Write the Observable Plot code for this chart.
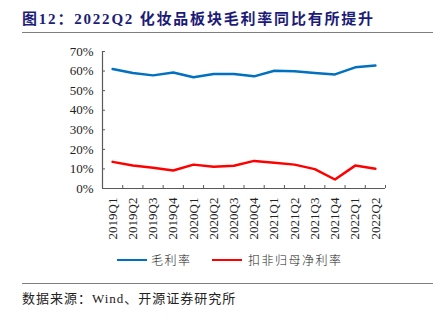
<!DOCTYPE html>
<html>
<head>
<meta charset="utf-8">
<script src="https://cdn.jsdelivr.net/npm/d3@7"></script>
<script src="https://cdn.jsdelivr.net/npm/@observablehq/plot@0.6"></script>
<style>
  body { margin: 0; background: #fff; }
  #wrap { position: relative; width: 441px; height: 323px; overflow: hidden; font-family: "Liberation Serif", "Noto Sans CJK SC", serif; }
  #title { position: absolute; left: 22px; top: 7px; font-size: 15px; font-weight: bold; color: #1c1c78; letter-spacing: 1.8px; white-space: nowrap; font-family: "Liberation Serif", "Noto Sans CJK SC", serif; }
  .hr { position: absolute; left: 22px; width: 411px; height: 0; border-top: 1.5px solid #7f7f7f; }
  #chart { position: absolute; left: 0; top: 40px; }
  #legend { position: absolute; top: 251px; left: 0; width: 441px; height: 18px; font-size: 12px; letter-spacing: 1.5px; color: #222; }
  .sw { position: absolute; top: 8px; width: 30px; height: 0; border-top: 2.5px solid; }
  .lt { position: absolute; top: 0; white-space: nowrap; font-family: "Noto Sans CJK SC", sans-serif; font-weight: 300; }
  #source { position: absolute; left: 22px; top: 288px; font-size: 13px; letter-spacing: 1px; color: #222; white-space: nowrap; font-family: "Liberation Serif", "Noto Sans CJK SC", serif; }
</style>
</head>
<body>
<div id="wrap">
  <div id="title">图12：2022Q2 化妆品板块毛利率同比有所提升</div>
  <div class="hr" style="top:32px"></div>
  <div id="chart"></div>
  <div id="legend"></div>
  <div class="hr" style="top:283px"></div>
  <div id="source">数据来源：Wind、开源证券研究所</div>
</div>
<script>
const quarters = ["2019Q1","2019Q2","2019Q3","2019Q4","2020Q1","2020Q2","2020Q3","2020Q4","2021Q1","2021Q2","2021Q3","2021Q4","2022Q1","2022Q2"];
const grossMargin = [61.1, 59.0, 57.8, 59.3, 56.8, 58.5, 58.5, 57.3, 60.2, 59.9, 59.0, 58.3, 61.9, 62.8];
const netMargin = [13.6, 11.7, 10.6, 9.2, 12.2, 11.1, 11.6, 14.1, 13.1, 12.2, 9.9, 4.6, 11.7, 10.1];
const yTicks = [0, 10, 20, 30, 40, 50, 60, 70];
const seriesNames = ["毛利率", "扣非归母净利率"];
const seriesColors = ["#0070C0", "#FF0000"];

const rows = [];
quarters.forEach((q, i) => {
  rows.push({pos: i + 0.5, q, value: grossMargin[i], series: seriesNames[0]});
  rows.push({pos: i + 0.5, q, value: netMargin[i], series: seriesNames[1]});
});

const axisColor = "#595959";
const chart = Plot.plot({
  width: 441,
  height: 210,
  marginTop: 11,
  marginBottom: 62,
  marginLeft: 102,
  marginRight: 56,
  style: {fontFamily: "Liberation Serif, serif", fontSize: "13px", color: "#222", background: "transparent"},
  x: {type: "linear", domain: [0, quarters.length], label: null},
  y: {domain: [0, 70], label: null},
  color: {domain: seriesNames, range: seriesColors},
  marks: [
    Plot.axisY({ticks: yTicks, tickSize: -3, text: null, label: null, stroke: axisColor}),
    Plot.axisY({ticks: yTicks, tickSize: 0, tickPadding: 9, tickFormat: d => d + "%", label: null, fill: "#222"}),
    Plot.axisX({ticks: d3.range(quarters.length + 1), tickSize: -3, text: null, label: null, stroke: axisColor}),
    Plot.axisX({ticks: d3.range(quarters.length).map(i => i + 0.5), tickSize: 0, tickPadding: 9, tickRotate: -90,
      tickFormat: d => quarters[Math.round(d - 0.5)], label: null, fill: "#222"}),
    Plot.ruleX([0], {y1: 0, y2: 70, stroke: axisColor, strokeWidth: 1.2}),
    Plot.ruleY([0], {stroke: axisColor, strokeWidth: 1.2}),
    Plot.lineY(rows, {x: "pos", y: "value", z: "series", stroke: "series", strokeWidth: 2.5, curve: "linear"})
  ]
});
document.getElementById("chart").appendChild(chart);

const legend = document.getElementById("legend");
const swX = [117, 212];
const txX = [151, 248];
seriesNames.forEach((name, i) => {
  const sw = document.createElement("div");
  sw.className = "sw";
  sw.style.left = swX[i] + "px";
  sw.style.borderTopColor = seriesColors[i];
  legend.appendChild(sw);
  const t = document.createElement("div");
  t.className = "lt";
  t.style.left = txX[i] + "px";
  t.textContent = name;
  legend.appendChild(t);
});
</script>
</body>
</html>
